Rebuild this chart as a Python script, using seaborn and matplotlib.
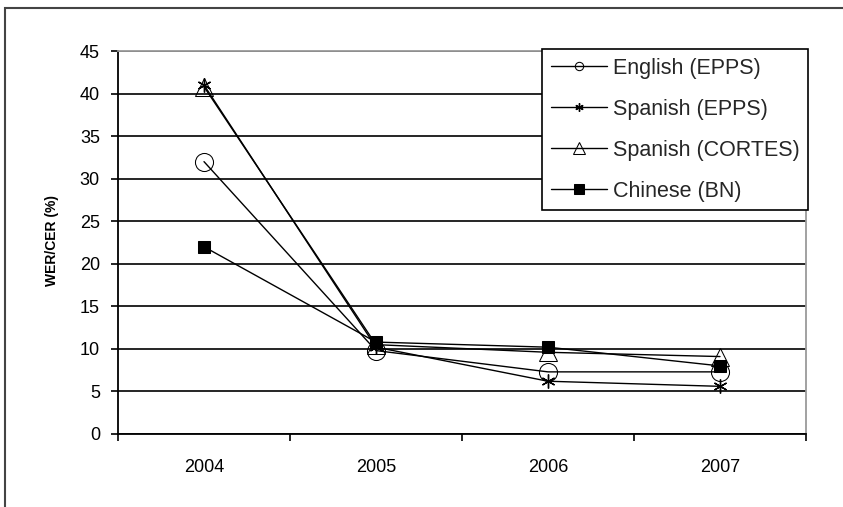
import matplotlib
matplotlib.use("Agg")
import matplotlib.pyplot as plt
from matplotlib.patches import Rectangle
import seaborn as sns

# Yearly error rates per task
years = ["2004", "2005", "2006", "2007"]
english_epps = [32.0, 9.8, 7.3, 7.3]
spanish_epps = [41.0, 10.2, 6.2, 5.6]
spanish_cortes = [40.8, 10.5, 9.6, 9.1]
chinese_bn = [22.0, 10.8, 10.2, 8.0]

series_labels = ["English (EPPS)", "Spanish (EPPS)", "Spanish (CORTES)", "Chinese (BN)"]
y_ticks = [0, 5, 10, 15, 20, 25, 30, 35, 40, 45]

sns.set_theme(style="white")
plt.rcParams["font.family"] = ["Liberation Sans", "DejaVu Sans"]

fig = plt.figure(figsize=(8.43, 5.07), dpi=100)
ax = fig.add_axes([118 / 843, 1 - 434 / 507, (806 - 118) / 843, (434 - 51) / 507])

styles = [
    dict(marker="o", markersize=13, markerfacecolor="none"),
    dict(marker=(6, 2, 0), markersize=10, markeredgewidth=1.0),
    dict(marker="^", markersize=13, markerfacecolor="none"),
    dict(marker="s", markersize=9, markerfacecolor="black"),
]
for values, label, st in zip([english_epps, spanish_epps, spanish_cortes, chinese_bn],
                             series_labels, styles):
    sns.lineplot(x=years, y=values, ax=ax, color="black", linewidth=1.0,
                 markeredgecolor="black", label=label, sort=False, **st)

ax.set_xlim(-0.5, len(years) - 0.5)
ax.set_ylim(0, 45)
ax.set_yticks(y_ticks)
ax.set_xticks(range(len(years)))
ax.set_xticklabels(years)
ax.set_xticks([i - 0.5 for i in range(len(years) + 1)], minor=True)
ax.tick_params(axis="x", which="major", length=0, pad=18, labelsize=13, colors="black")
ax.tick_params(axis="x", which="minor", length=5, width=1.2, direction="out",
               color="black", bottom=True)
ax.tick_params(axis="y", which="major", length=5, width=1.2, direction="out",
               pad=8, labelsize=13, colors="black", left=True)
ax.set_xlabel("")

ax.yaxis.grid(True, color="black", linewidth=1.2)
ax.xaxis.grid(False)
ax.set_axisbelow(True)
for side in ("left", "bottom"):
    ax.spines[side].set_color("black")
    ax.spines[side].set_linewidth(1.3)
for side in ("top", "right"):
    ax.spines[side].set_color("#9a9a9a")
    ax.spines[side].set_linewidth(1.3)

fig.text(52 / 843, 1 - 241 / 507, "WER/CER (%)", rotation=90, ha="center", va="center",
         fontsize=10, fontweight="bold", color="black")

leg = ax.legend(loc="upper left", bbox_to_anchor=(542 / 843, 1 - 49 / 507),
                bbox_transform=fig.transFigure, fontsize=15.5, frameon=True,
                fancybox=False, shadow=False, handlelength=2.6, handletextpad=0.3,
                borderpad=0.4, labelspacing=0.93, borderaxespad=0)
leg.get_frame().set_edgecolor("black")
leg.get_frame().set_linewidth(1.2)
leg.get_frame().set_facecolor("white")
leg.get_frame().set_alpha(1)
legend_sizes = [6, 6, 8, 7]
for h, s in zip(leg.legend_handles, legend_sizes):
    h.set_markersize(s)

# Outer chart frame
fig.patches.append(Rectangle((5 / 843, -0.1), 1.2, 1.1 - 8 / 507,
                             transform=fig.transFigure, fill=False,
                             edgecolor="#444444", linewidth=1.5, clip_on=False))

fig.savefig("out.png", dpi=100, facecolor="white")
